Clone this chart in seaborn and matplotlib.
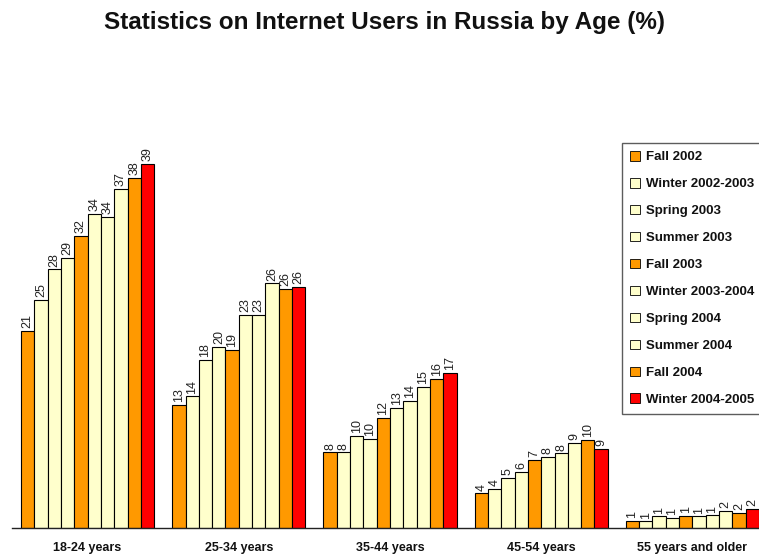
import matplotlib
matplotlib.use("Agg")
import matplotlib.pyplot as plt
import seaborn as sns
import pandas as pd
from matplotlib.patches import Patch

groups = ["18-24 years", "25-34 years", "35-44 years", "45-54 years", "55 years and older"]
series = ["Fall 2002", "Winter 2002-2003", "Spring 2003", "Summer 2003", "Fall 2003",
          "Winter 2003-2004", "Spring 2004", "Summer 2004", "Fall 2004", "Winter 2004-2005"]
colors = ["#FF9900", "#FFFFCC", "#FFFFCC", "#FFFFCC", "#FF9900",
          "#FFFFCC", "#FFFFCC", "#FFFFCC", "#FF9900", "#FF0000"]

# bar heights per age group (one value per series)
v_18_24 = [21.1, 24.4, 27.7, 28.9, 31.3, 33.6, 33.3, 36.3, 37.5, 39.0]
v_25_34 = [13.2, 14.1, 18.0, 19.4, 19.1, 22.8, 22.8, 26.2, 25.6, 25.8]
v_35_44 = [8.1, 8.1, 9.9, 9.5, 11.8, 12.9, 13.6, 15.1, 16.0, 16.6]
v_45_54 = [3.7, 4.2, 5.4, 6.0, 7.3, 7.6, 8.0, 9.1, 9.4, 8.5]
v_55_up = [0.75, 0.7, 1.25, 1.07, 1.3, 1.25, 1.36, 1.8, 1.6, 2.04]
values = [v_18_24, v_25_34, v_35_44, v_45_54, v_55_up]

# printed labels per age group
l_18_24 = [21, 25, 28, 29, 32, 34, 34, 37, 38, 39]
l_25_34 = [13, 14, 18, 20, 19, 23, 23, 26, 26, 26]
l_35_44 = [8, 8, 10, 10, 12, 13, 14, 15, 16, 17]
l_45_54 = [4, 4, 5, 6, 7, 8, 8, 9, 10, 9]
l_55_up = [1, 1, 1, 1, 1, 1, 1, 2, 2, 2]
labels = [l_18_24, l_25_34, l_35_44, l_45_54, l_55_up]

rows = []
for g, vals in zip(groups, values):
    for s, v in zip(series, vals):
        rows.append({"group": g, "series": s, "value": v})
df = pd.DataFrame(rows)

sns.set_theme(style="white")
plt.rcParams["font.family"] = ["Liberation Sans", "DejaVu Sans"]

W, H = 759, 559
fig = plt.figure(figsize=(W / 100, H / 100), dpi=100)
ax = fig.add_axes([12 / W, 31 / H, 756 / W, 388 / H])

sns.barplot(data=df, x="group", y="value", hue="series", hue_order=series, order=groups,
            palette=colors, width=0.88, edgecolor="black", linewidth=0.8,
            saturation=1, legend=False, ax=ax)

for i, cont in enumerate(ax.containers):
    labs = [str(labels[gi][i]) for gi in range(len(groups))]
    ax.bar_label(cont, labels=labs, rotation=90, padding=2, fontsize=9,
                 color="#222222")

ax.set_xlim(-0.5, 4.5)
ax.set_ylim(0, 388 / 9.34)
for sp in ["top", "right", "left"]:
    ax.spines[sp].set_visible(False)
ax.spines["bottom"].set_color("#222222")
ax.spines["bottom"].set_linewidth(1.0)
ax.set_yticks([])
ax.set_xlabel("")
ax.set_ylabel("")
ax.set_xticks(range(len(groups)))
ax.set_xticklabels(groups, fontsize=9, fontweight="bold", color="#111111")
ax.tick_params(axis="x", which="major", length=0, pad=10)
ax.set_xticks([i - 0.5 for i in range(len(groups) + 1)], minor=True)
ax.tick_params(axis="x", which="minor", length=5, width=1, color="#222222", direction="out")

handles = [Patch(facecolor=c, edgecolor="black", linewidth=0.6) for c in colors]
leg = fig.legend(handles, series, loc="upper left", bbox_to_anchor=(622 / W, 1 - 143 / H),
                 frameon=True, fancybox=False, edgecolor="#333333",
                 prop={"weight": "bold", "size": 9.5},
                 handlelength=0.75, handleheight=0.75, handletextpad=0.45,
                 labelspacing=1.1, borderpad=0.6, borderaxespad=0)
leg.get_frame().set_linewidth(1.0)
for t in leg.get_texts():
    t.set_color("#111111")

fig.text(385 / W, 1 - 22 / H, "Statistics on Internet Users in Russia by Age (%)",
         ha="center", va="center", fontsize=17.5, fontweight="bold", color="#111111")

fig.savefig("out.png", dpi=100)
